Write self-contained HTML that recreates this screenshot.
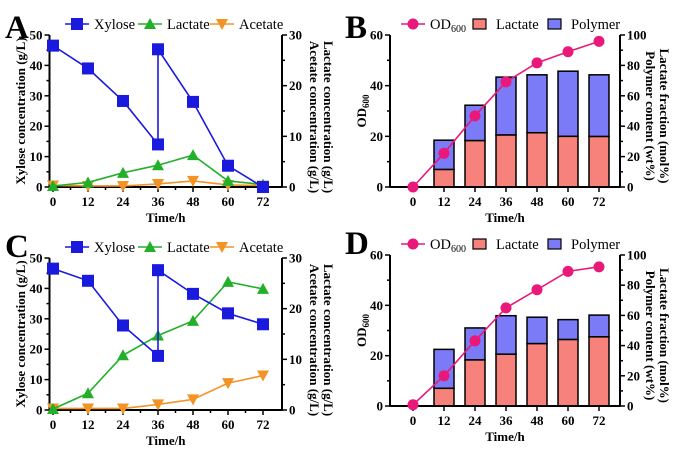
<!DOCTYPE html>
<html><head><meta charset="utf-8"><style>
html,body{margin:0;padding:0;background:#fff;}
svg{display:block;font-family:"Liberation Serif",serif;}
.t{font-weight:bold;font-size:13px;}
.ttl{font-weight:bold;font-size:13px;}
.lg{font-size:14.5px;}
.let{font-weight:bold;font-size:33px;}
</style></head><body>
<svg id="chart" width="685" height="464" viewBox="0 0 685 464"></svg>
<script>
const hours = [0, 12, 24, 36, 48, 60, 72];
// Panel A
const aXyloseT = [0, 12, 24, 36, 36, 48, 60, 72];
const aXylose = [46.5, 39, 28.3, 14, 45.3, 28, 7, 0];
const aLactate = [0.2, 0.9, 2.8, 4.3, 6.3, 1.2, 0.5];
const aAcetate = [0.3, 0.2, 0.2, 0.6, 1.2, 0.4, 0.3];
// Panel C
const cXyloseT = [0, 12, 24, 36, 36, 48, 60, 72];
const cXylose = [46.5, 42.5, 27.8, 17.8, 46, 38.2, 31.8, 28.2];
const cLactate = [0.2, 3.3, 10.8, 14.7, 17.6, 25.3, 23.9];
const cAcetate = [0.3, 0.3, 0.3, 1.1, 2.1, 5.3, 6.8];
// Panel B
const barHours = [12, 24, 36, 48, 60, 72];
const bOD = [0, 13.3, 28.1, 41.5, 49, 53.4, 57.5];
const bLactFrac = [11.5, 30.5, 34.2, 35.7, 33.3, 33.2];
const bPolymer = [30.8, 53.8, 72.3, 73.8, 76.2, 73.8];
// Panel D
const dOD = [0.5, 12.0, 25.9, 39, 46.2, 53.5, 55.3];
const dLactFrac = [11.7, 30.5, 34.3, 41.3, 44, 45.8];
const dPolymer = [37.5, 51.7, 59.8, 58.8, 57.2, 60.2];
const xTicks = ['0','12','24','36','48','60','72'];

const NS = 'http://www.w3.org/2000/svg';
const svg = document.getElementById('chart');
function mk(tag, attrs, parent, text) {
  const e = document.createElementNS(NS, tag);
  for (const k in attrs) e.setAttribute(k, attrs[k]);
  if (text !== undefined) e.textContent = text;
  (parent || svg).appendChild(e);
  return e;
}
function marker(g, type, x, y, color) {
  let m;
  if (type === 'sq') m = mk('rect', {x: x-6, y: y-6, width: 12, height: 12, fill: color}, g);
  else if (type === 'tri') m = mk('polygon', {points: `${x},${y-6} ${x-6},${y+5} ${x+6},${y+5}`, fill: color}, g);
  else if (type === 'itri') m = mk('polygon', {points: `${x},${y+6} ${x-6},${y-5} ${x+6},${y-5}`, fill: color}, g);
  else m = mk('circle', {cx: x, cy: y, r: 5.5, fill: color}, g);
  return m;
}
function axes(g, L, R, T, B, lMax, lStep, lMinor, rMax, rStep, rMinor, xPos, xMinor) {
  mk('line', {x1: L, y1: T, x2: L, y2: B+0.75, stroke: '#000', 'stroke-width': 2}, g);
  mk('line', {x1: R, y1: T, x2: R, y2: B+0.75, stroke: '#000', 'stroke-width': 2}, g);
  mk('line', {x1: L, y1: B, x2: R, y2: B, stroke: '#000', 'stroke-width': 2}, g);
  for (let v = 0; v <= lMax + 1e-9; v += lMinor) {
    const y = B - v / lMax * (B - T);
    const major = Math.abs(v / lStep - Math.round(v / lStep)) < 1e-6;
    mk('line', {x1: L - (major ? 5 : 3), y1: y, x2: L, y2: y, stroke: '#000', 'stroke-width': 1.5}, g);
    if (major) { const t = mk('text', {x: L - 7, y: y + 4.5, 'text-anchor': 'end', class: 't'}, g, String(v));   }
  }
  for (let v = 0; v <= rMax + 1e-9; v += rMinor) {
    const y = B - v / rMax * (B - T);
    const major = Math.abs(v / rStep - Math.round(v / rStep)) < 1e-6;
    mk('line', {x1: R, y1: y, x2: R + (major ? 5 : 3), y2: y, stroke: '#000', 'stroke-width': 1.5}, g);
    if (major) { const t = mk('text', {x: R + 7, y: y + 4.5, 'text-anchor': 'start', class: 't'}, g, String(v));   }
  }
  xPos.forEach((x, i) => {
    mk('line', {x1: x, y1: B, x2: x, y2: B + 5, stroke: '#000', 'stroke-width': 1.5}, g);
    const t = mk('text', {x: x, y: B + 19, 'text-anchor': 'middle', class: 't'}, g, xTicks[i]);
    
    
  });
  if (xMinor) xMinor.forEach(x => mk('line', {x1: x, y1: B, x2: x, y2: B + 3, stroke: '#000', 'stroke-width': 1.5}, g));
  const tt = mk('text', {x: (L + R) / 2, y: B + 35, 'text-anchor': 'middle', class: 't'}, g, 'Time/h');
  
  
}
function series(g, name, xs, ys, color, type) {
  const s = mk('g', {}, g);
  
  
  mk('polyline', {points: xs.map((x, i) => x + ',' + ys[i]).join(' '), fill: 'none', stroke: color, 'stroke-width': 1.6}, s);
  xs.forEach((x, i) => {
    const m = marker(s, type, x, ys[i], color);
    
    
  });
}
function legendItem(g, name, x, y, type, color, label, sub) {
  const li = mk('g', {}, g);
  
  
  if (type === 'box') {
    mk('rect', {x: x - 6, y: y - 5, width: 13, height: 10, fill: color, stroke: '#000', 'stroke-width': 1.2}, li);
  } else {
    mk('line', {x1: x - 12, y1: y, x2: x + 12, y2: y, stroke: color, 'stroke-width': 1.6}, li);
    marker(li, type, x, y, color);
  }
  const t = mk('text', {x: x + 17, y: y + 5, class: 'lg'}, li, label);
  if (sub) mk('tspan', {'font-size': '10px', dy: 3}, t, sub);
}
function lineLetter(x, y, s) {
  const t = mk('text', {x: x, y: y, class: 'let'}, svg, s);
  
  
}

function linePanel(id, T, B, xyT, xy, lac, ace) {
  const g = mk('g', {});
  
  
  const L = 49.5, R = 282, x0 = 53, x72 = 263;
  const xS = h => x0 + h / 72 * (x72 - x0);
  const yL = v => B - v / 50 * (B - T);
  const yR = v => B - v / 30 * (B - T);
  axes(g, L, R, T, B, 50, 10, 5, 30, 10, 5, hours.map(xS), hours.slice(0, 6).map(h => xS(h + 6)));
  series(g, 'acetate-series', hours.map(xS), ace.map(yR), '#f39325', 'itri');
  series(g, 'lactate-series', hours.map(xS), lac.map(yR), '#22b02a', 'tri');
  series(g, 'xylose-series', xyT.map(xS), xy.map(yL), '#1a1adf', 'sq');
  const mid = (T + B) / 2;
  let t = mk('text', {transform: `translate(25,${mid}) rotate(-90)`, 'text-anchor': 'middle', class: 'ttl'}, g, 'Xylose concentration (g/L)');
   
  t = mk('text', {transform: `translate(324,${mid + 6}) rotate(90)`, 'text-anchor': 'middle', class: 'ttl'}, g, 'Lactate concentration (g/L)');
   
  t = mk('text', {transform: `translate(310,${mid + 6}) rotate(90)`, 'text-anchor': 'middle', class: 'ttl'}, g, 'Acetate concentration (g/L)');
   
  const lg = mk('g', {}, g);
  
  
  const ly = T - 11;
  legendItem(lg, 'legend-xylose', 77, ly, 'sq', '#1a1adf', 'Xylose');
  legendItem(lg, 'legend-lactate', 150, ly, 'tri', '#22b02a', 'Lactate');
  legendItem(lg, 'legend-acetate', 222, ly, 'itri', '#f39325', 'Acetate');
}

function barPanel(id, T, B, od, lacF, poly) {
  const g = mk('g', {});
  
  
  const L = 390, R = 620, x0 = 413, x72 = 599;
  const xS = h => x0 + h / 72 * (x72 - x0);
  const yL = v => B - v / 60 * (B - T);
  const yR = v => B - v / 100 * (B - T);
  barHours.forEach((h, i) => {
    const x = xS(h) - 10;
    const r1 = mk('rect', {x: x, y: yR(poly[i]), width: 20, height: yR(lacF[i]) - yR(poly[i]), fill: '#7b7bf7', stroke: '#000', 'stroke-width': 1.5}, g);
    
    
    const r2 = mk('rect', {x: x, y: yR(lacF[i]), width: 20, height: B - yR(lacF[i]), fill: '#f7817b', stroke: '#000', 'stroke-width': 1.5}, g);
    
    
  });
  axes(g, L, R, T, B, 60, 20, 10, 100, 20, 10, hours.map(xS), null);
  series(g, 'od600-series', hours.map(xS), od.map(yL), '#e8197a', 'circ');
  const mid = (T + B) / 2;
  let t = mk('text', {transform: `translate(366,${mid}) rotate(-90)`, 'text-anchor': 'middle', class: 'ttl'}, g, 'OD');
  mk('tspan', {'font-size': '9px', dy: 3}, t, '600');
   
  t = mk('text', {transform: `translate(660,${mid + 5}) rotate(90)`, 'text-anchor': 'middle', class: 'ttl'}, g, 'Lactate fraction (mol%)');
   
  t = mk('text', {transform: `translate(646,${mid + 5}) rotate(90)`, 'text-anchor': 'middle', class: 'ttl'}, g, 'Polymer content (wt%)');
   
  const lg = mk('g', {}, g);
  
  
  const ly = T - 11;
  legendItem(lg, 'legend-od600', 413, ly, 'circ', '#e8197a', 'OD', '600');
  legendItem(lg, 'legend-lactate', 479, ly, 'box', '#f7817b', 'Lactate');
  legendItem(lg, 'legend-polymer', 554, ly, 'box', '#7b7bf7', 'Polymer');
}

linePanel('a', 35, 187, aXyloseT, aXylose, aLactate, aAcetate);
barPanel('b', 35, 187, bOD, bLactFrac, bPolymer);
linePanel('c', 258, 410, cXyloseT, cXylose, cLactate, cAcetate);
barPanel('d', 255, 406, dOD, dLactFrac, dPolymer);
lineLetter(5, 38, 'A');
lineLetter(345, 38, 'B');
lineLetter(5, 257, 'C');
lineLetter(345, 254, 'D');
</script>
</body></html>
